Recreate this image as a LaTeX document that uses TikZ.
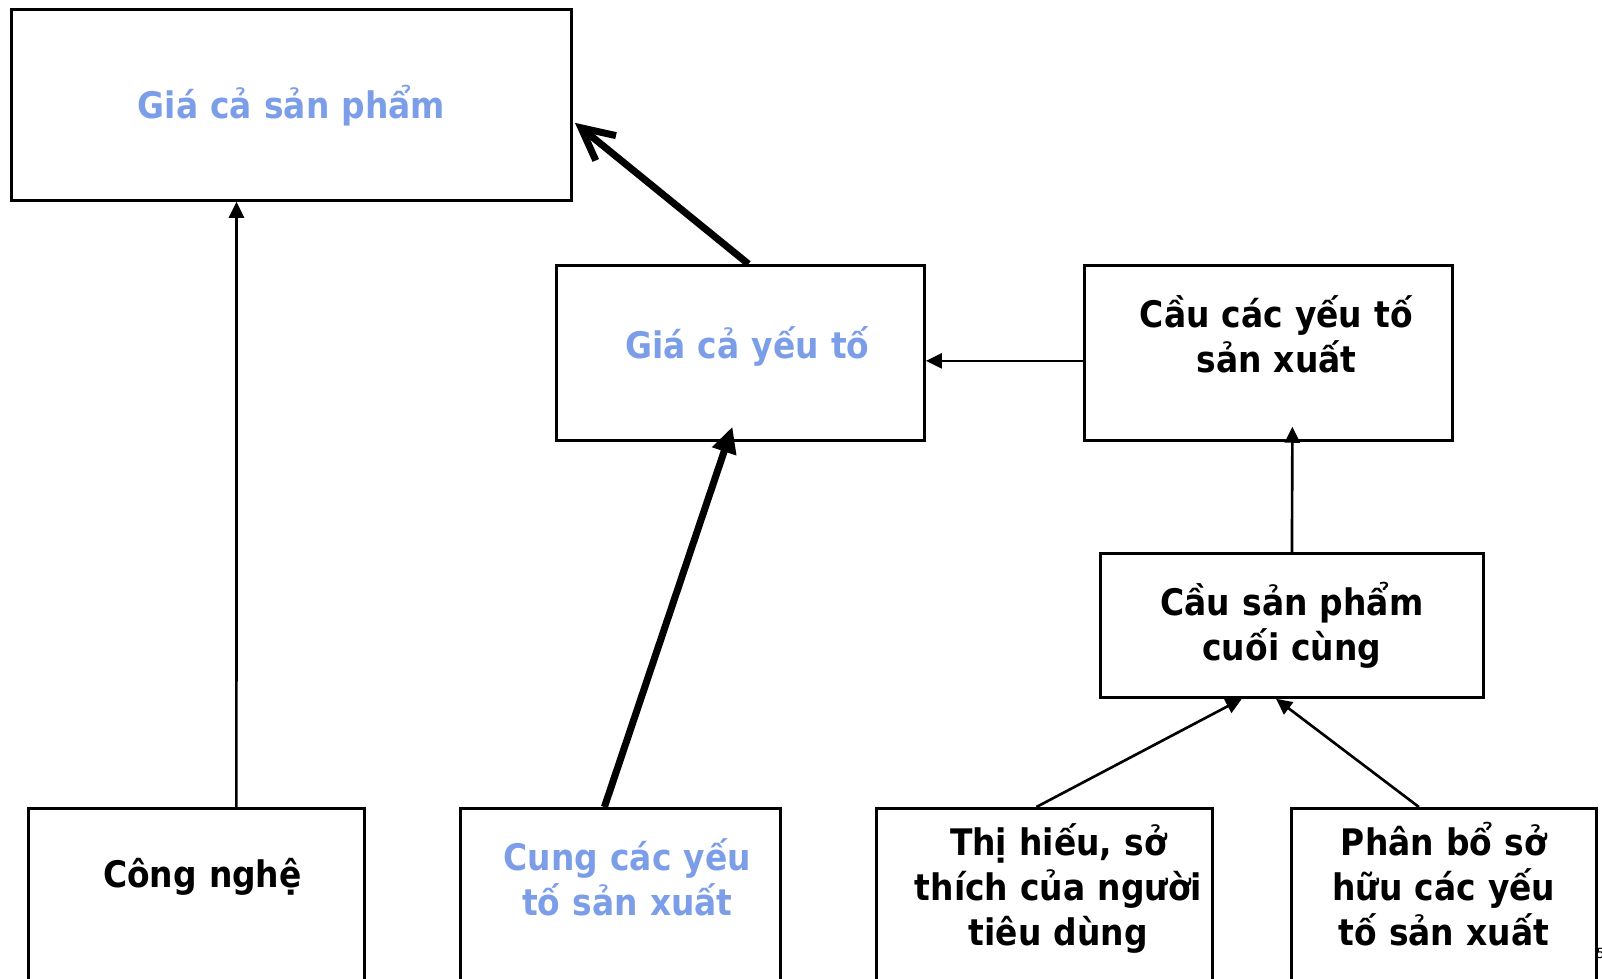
\documentclass[tikz,border=0pt]{standalone}
\usepackage{fontspec}
\setmainfont{DejaVu Sans Condensed}
\usepackage{tikz}
\usetikzlibrary{arrows.meta, calc}
\definecolor{myblue}{RGB}{124,158,232}
\tikzset{
  box/.style={rectangle, draw=black, line width=0.75pt, anchor=north west,
    inner sep=0pt, align=center, text=black,
    font=\fontsize{10.4pt}{12.8pt}\selectfont\bfseries},
  bluebox/.style={box, text=myblue},
  textshift/.style={execute at begin node={\advance\leftskip by #1}},
  arrow/.style={-{Triangle[length=0.16cm,width=0.15cm]}, line width=0.75pt},
  bigarrow/.style={-{Triangle[length=0.26cm,width=0.24cm]}, line width=2pt},
  openarrow/.style={-{Straight Barb[length=0.32cm,width=0.32cm]}, line width=2pt}
}

\begin{document}
\begin{tikzpicture}[x=0.01cm, y=-0.01cm]
  \useasboundingbox (0,0) rectangle (1602,979);
  % Prices
  \node[bluebox, text width=5.6cm, text height=1.09cm, text depth=0.82cm] (pprice) at (10,8) {Giá cả sản phẩm};
  \node[bluebox, textshift=0.14cm, text width=3.68cm, text height=0.93cm, text depth=0.82cm] (fprice) at (555,264) {Giá cả yếu tố};
  % Demand side
  \node[box, textshift=0.16cm, text width=3.68cm, text height=0.62cm, text depth=1.13cm] (fdemand) at (1083,264) {Cầu các yếu tố\\sản xuất};
  \node[box, text width=3.83cm, text height=0.62cm, text depth=0.82cm] (pdemand) at (1099,552) {Cầu sản phẩm\\cuối cùng};
  % Bottom row, cut off by the page edge
  \node[box, textshift=0.12cm, text width=3.36cm, text height=0.79cm, text depth=2cm] (tech) at (27,807) {Công nghệ};
  \node[bluebox, textshift=0.14cm, text width=3.2cm, text height=0.62cm, text depth=2cm] (supply) at (459,807) {Cung các yếu\\tố sản xuất};
  \node[box, textshift=0.28cm, text width=3.36cm, text height=0.47cm, text depth=2cm] (taste) at (875,807) {Thị hiếu, sở\\thích của người\\tiêu dùng};
  \node[box, text width=3.05cm, text height=0.47cm, text depth=2cm] (own) at (1290,807) {Phân bổ sở\\hữu các yếu\\tố sản xuất};
  % Page number
  \node[anchor=west, inner sep=0pt, font=\fontsize{4pt}{5pt}\selectfont] (pagenum) at (1596,953) {5};

  % Arrows
  \draw[arrow] ($(tech.north)+(40,0)$) -- ($(pprice.south)+(-55,0)$);
  \draw[bigarrow] ($(supply.north)+(-16,0)$) -- ($(fprice.south)+(-8,-15)$);
  \draw[openarrow] ($(fprice.north)+(8,0)$) -- ($(pprice.east)+(2,18)$);
  \draw[arrow] ($(fdemand.west)+(0,8)$) -- ($(fprice.east)+(0,8)$);
  \draw[arrow] ($(pdemand.north)+(0,0)$) -- ($(fdemand.south)+(24,-15)$);
  \draw[arrow] ($(taste.north)+(-8,0)$) -- ($(pdemand.south)+(-50,0)$);
  \draw[arrow] ($(own.north)+(-25,0)$) -- ($(pdemand.south)+(-16,0)$);
\end{tikzpicture}
\end{document}
